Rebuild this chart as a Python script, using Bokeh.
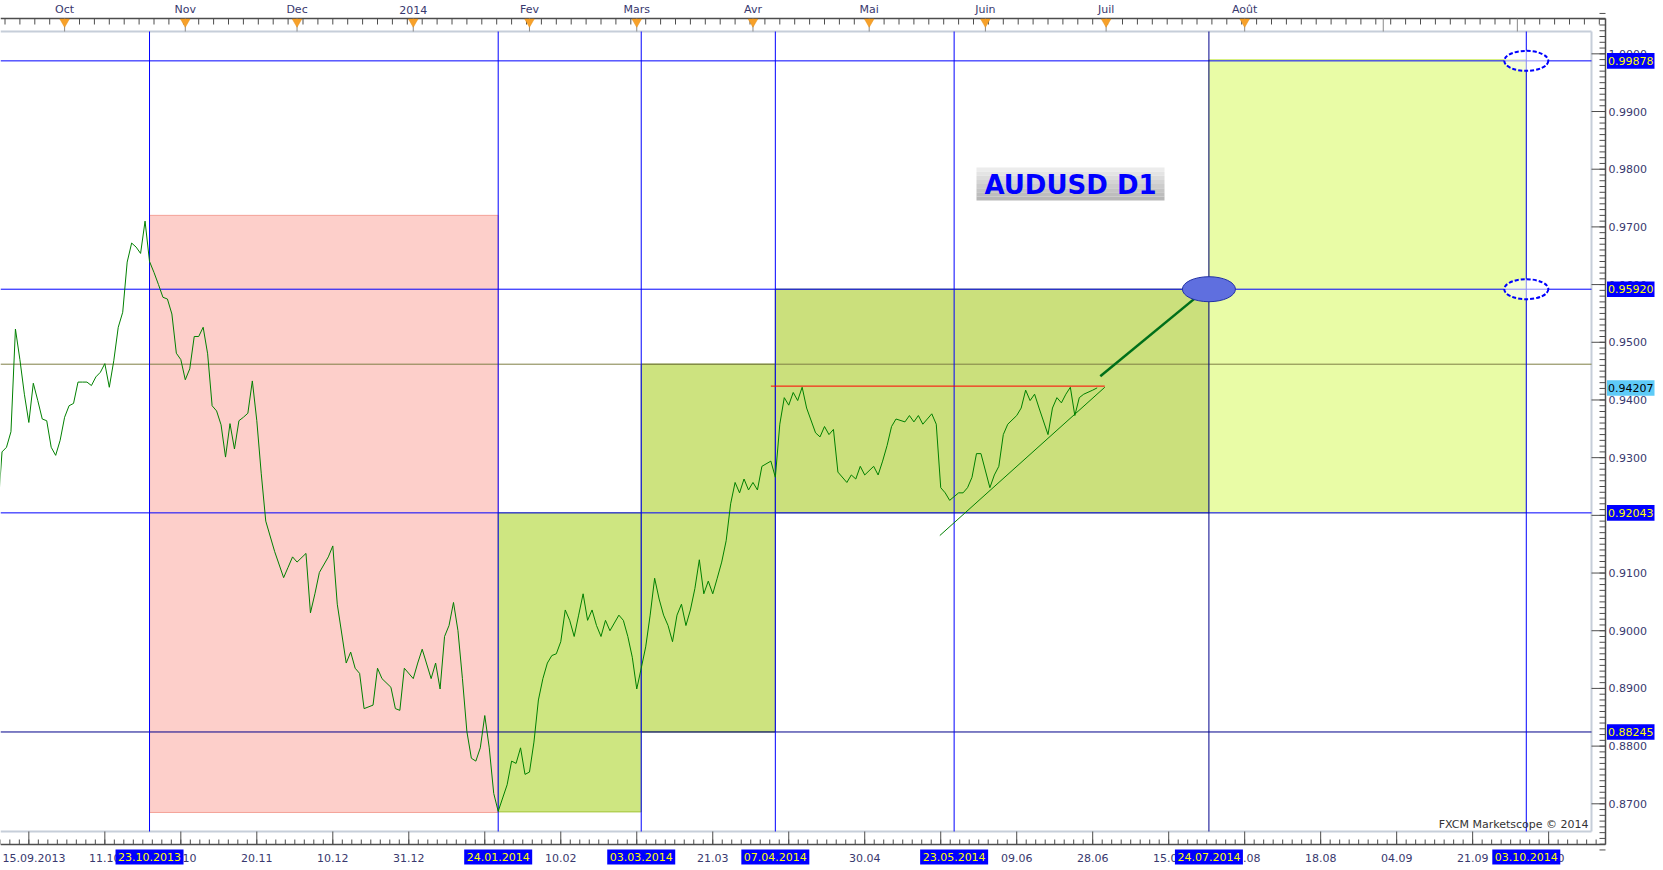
from bokeh.plotting import figure
from bokeh.models import Range1d
from bokeh.core.properties import value
from bokeh.embed import file_html
from bokeh.resources import INLINE

# ---------------- data (x = bar index, 0 = 01.10.2013) ----------------
price_bar = [-15, -14, -13, -12, -11, -10, -9, -8, -7, -6, -5, -4, -3, -2, -1,
             0, 1, 2, 3, 4, 5, 6, 7, 8, 9, 10, 11, 12, 13, 14, 15, 16, 17, 18, 19,
             20, 21, 22, 23, 24, 25, 26, 27, 28, 29, 30, 31, 32, 33, 34, 35, 36, 37,
             38, 39, 40, 41, 42, 43, 44, 45, 47, 49, 50, 51, 52, 54, 55, 56, 57, 59,
             60, 61, 63, 64, 65, 66, 67, 69, 70, 71, 73, 74, 75, 76, 78, 79, 80, 82,
             83, 84, 85, 86, 87, 88, 89, 90, 91, 92, 93, 94, 95, 96, 97, 99, 100, 101,
             102, 103, 104, 105, 106, 107, 108, 109, 110, 111, 112, 113, 114, 115,
             116, 117, 118, 119, 120, 121, 122, 124, 125, 126, 127, 128, 129, 130,
             131, 132, 133, 134, 135, 136, 137, 138, 139, 140, 141, 142, 143, 144,
             145, 146, 147, 148, 149, 150, 151, 152, 153, 154, 155, 156, 158, 159,
             160, 161, 162, 163, 164, 165, 166, 168, 169, 170, 171, 172, 173, 175,
             176, 177, 178, 179, 181, 182, 183, 184, 185, 186, 188, 189, 190, 191,
             192, 194, 195, 196, 197, 198, 200, 201, 202, 203, 204, 205, 207, 208,
             209, 210, 211, 213, 214, 215, 216, 217, 218, 220, 221, 222, 223, 224,
             225, 226, 227, 228, 230, 231]
price_val = [0.9200, 0.9310, 0.9318, 0.9345, 0.9523, 0.9470, 0.9410, 0.9361, 0.9429,
             0.9399, 0.9367, 0.9364, 0.9318, 0.9304, 0.9330,
             0.9370, 0.9390, 0.9394, 0.9431, 0.9431, 0.9431, 0.9425, 0.9440, 0.9448,
             0.9463, 0.9422, 0.9468, 0.9526, 0.9552, 0.9639, 0.9672, 0.9665, 0.9654,
             0.9710, 0.9640, 0.9621, 0.9600, 0.9578, 0.9575, 0.9549, 0.9481, 0.9470,
             0.9435, 0.9454, 0.9510, 0.9510, 0.9526, 0.9480, 0.9390, 0.9381, 0.9357,
             0.9301, 0.9359, 0.9315, 0.9364, 0.9370, 0.9377, 0.9433, 0.9364, 0.9272,
             0.9190, 0.9137, 0.9092, 0.9110, 0.9128, 0.9119, 0.9134, 0.9031, 0.9064,
             0.9101, 0.9128, 0.9147, 0.9046, 0.8944, 0.8963, 0.8935, 0.8926, 0.8865,
             0.8871, 0.8935, 0.8917, 0.8902, 0.8865, 0.8862, 0.8935, 0.8917, 0.8944,
             0.8968, 0.8917, 0.8944, 0.8899, 0.8990, 0.9009, 0.9049, 0.9000, 0.8917,
             0.8825, 0.8779, 0.8774, 0.8797, 0.8853, 0.8797, 0.8718, 0.8687, 0.8733,
             0.8774, 0.8770, 0.8797, 0.8751, 0.8755, 0.8807, 0.8880, 0.8917, 0.8944,
             0.8957, 0.8960, 0.8981, 0.9036, 0.9018, 0.8990, 0.9027, 0.9064, 0.9018,
             0.9036, 0.9009, 0.8990, 0.9018, 0.9000, 0.9027, 0.9018, 0.8990, 0.8954,
             0.8899, 0.8935, 0.8972, 0.9027, 0.9091, 0.9055, 0.9027, 0.9009, 0.8981,
             0.9027, 0.9046, 0.9009, 0.9036, 0.9073, 0.9123, 0.9064, 0.9086, 0.9064,
             0.9091, 0.9119, 0.9156, 0.9220, 0.9257, 0.9239, 0.9263, 0.9244, 0.9257,
             0.9244, 0.9285, 0.9294, 0.9266, 0.9358, 0.9404, 0.9391, 0.9413, 0.9399,
             0.9422, 0.9386, 0.9343, 0.9336, 0.9354, 0.9340, 0.9349, 0.9275, 0.9257,
             0.9270, 0.9263, 0.9285, 0.9270, 0.9285, 0.9270, 0.9294, 0.9321, 0.9354,
             0.9367, 0.9362, 0.9373, 0.9362, 0.9373, 0.9358, 0.9376, 0.9358, 0.9248,
             0.9239, 0.9226, 0.9239, 0.9239, 0.9248, 0.9266, 0.9307, 0.9307, 0.9248,
             0.9270, 0.9285, 0.9340, 0.9358, 0.9373, 0.9386, 0.9417, 0.9399, 0.9410,
             0.9386, 0.9340, 0.9386, 0.9404, 0.9395, 0.9410, 0.9422, 0.9373, 0.9404,
             0.9410, 0.9417, 0.9421]

month_bar = [0, 27, 52, 78, 104, 128, 154, 180, 206, 233, 264, 295, 325]
month_label = ["Oct", "Nov", "Dec", "2014", "Fev", "Mars", "Avr", "Mai", "Juin",
               "Juil", "Août", "", ""]

date_tick_bar = [-8, 9, 26, 43, 60, 77, 94, 111, 128, 145, 162, 179, 196, 213,
                 230, 247, 264, 281, 298, 315, 332]
date_tick_label = ["15.09.2013", "11.10", "31.10", "20.11", "10.12", "31.12", "21.01",
                   "10.02", "02.03", "21.03", "10.04", "30.04", "20.05", "09.06",
                   "28.06", "15.07", "01.08", "18.08", "04.09", "21.09", "08.10"]

event_bar = [19, 97, 129, 159, 199, 256, 327]
event_label = ["23.10.2013", "24.01.2014", "03.03.2014", "07.04.2014",
               "23.05.2014", "24.07.2014", "03.10.2014"]

level_val = [0.99878, 0.95920, 0.92043, 0.88245]
level_label = ["0.99878", "0.95920", "0.92043", "0.88245"]
mid_level = 0.9462
last_price = 0.94207
last_label = "0.94207"

price_ticks = [0.87, 0.88, 0.89, 0.90, 0.91, 0.92, 0.93, 0.94, 0.95, 0.96, 0.97,
               0.98, 0.99, 1.00]
price_tick_label = ["0.8700", "0.8800", "0.8900", "0.9000", "0.9100", "0.9200",
                    "0.9300", "0.9400", "0.9500", "0.9600", "0.9700", "0.9800",
                    "0.9900", "1.0000"]

zone_left = [19, 97, 129, 159, 256]
zone_right = [97, 129, 159, 256, 327]
zone_bottom = [0.8685, 0.8686, 0.88245, 0.92043, 0.92043]
zone_top = [0.9720, 0.92043, 0.9462, 0.95920, 0.99900]

resistance_bar = [158, 232.7]
resistance_val = [0.9424, 0.9424]
support_bar = [195.8, 232.7]
support_val = [0.9165, 0.9422]
arrow_bar = [231.7, 255.5]
arrow_val = [0.9441, 0.9593]
target_bar = [256]
target_val = [0.95920]
proj_bar = [327, 327]
proj_val = [0.99878, 0.95920]

title_text = "AUDUSD D1"
credit_text = "FXCM Marketscope © 2014"

# ---------------- canvas geometry (pixels -> data) ----------------
W, H = 1663, 870
BAR0_PX, PX_PER_BAR = 64.1, 4.47       # where bar 0 sits, bar spacing
V0, V0_PX, PX_PER_UNIT = 0.87, 803.3, 5769.0


def X(px):
    return (px - BAR0_PX) / PX_PER_BAR


def Y(py):
    return V0 + (V0_PX - py) / PX_PER_UNIT


def DX(px):
    return px / PX_PER_BAR


def DY(py):
    return py / PX_PER_UNIT


AX_R = 1605       # right price axis line
RULER_T = 18      # top time ruler
RULER_B = 844     # bottom time ruler
PANEL_R, PANEL_T, PANEL_B = X(1591), Y(31), Y(831)

FONT = "DejaVu Sans"
AXIS_TEXT = "#38386e"
RULER = "#4d4d4d"

p = figure(width=W, height=H, x_range=Range1d(X(0), X(W)), y_range=Range1d(Y(H), Y(0)),
           output_backend="svg", toolbar_location=None,
           x_axis_location=None, y_axis_location=None,
           min_border=0, background_fill_color="white", border_fill_color="white",
           outline_line_color=None)
p.grid.visible = False

# zones
zone_fill = ["#fdcfca", "#cee681", "#cde37f", "#cbe07c", "#e9fca6"]
zone_line = ["#f4a398", "#a3c43a", "#6f8f22", "#6f8f22", "#d4ef78"]
p.quad(left=zone_left, right=zone_right, bottom=zone_bottom, top=zone_top,
       fill_color=zone_fill, line_color=zone_line, line_width=1)

# panel border
p.segment(x0=[X(0), PANEL_R, X(0)], y0=[PANEL_T, PANEL_B, PANEL_B],
          x1=[PANEL_R, PANEL_R, PANEL_R], y1=[PANEL_T, PANEL_T, PANEL_B],
          line_color="#c6ced9", line_width=2)

# horizontal levels
lvl_color = ["#0000ff", "#0000ff", "#0000ff", "#00008b"]
p.segment(x0=[X(0)] * len(level_val), y0=level_val, x1=[PANEL_R] * len(level_val),
          y1=level_val, line_color=lvl_color, line_width=1)
p.segment(x0=[X(0)], y0=[mid_level], x1=[PANEL_R], y1=[mid_level],
          line_color="#7f7f45", line_width=1)

# vertical event lines
ev_color = ["#0000ff"] * 5 + ["#00008b", "#0000ff"]
p.segment(x0=event_bar, y0=[PANEL_B] * len(event_bar), x1=event_bar,
          y1=[PANEL_T] * len(event_bar), line_color=ev_color, line_width=1)

# price
p.line(price_bar, price_val, line_color="#008000", line_width=1)

# drawings
p.line(resistance_bar, resistance_val, line_color="#ff0000", line_width=1)
p.line(support_bar, support_val, line_color="#008000", line_width=1)
p.line(arrow_bar, arrow_val, line_color="#00701a", line_width=2.5)
p.ellipse(x=target_bar, y=target_val, width=53, height=25, width_units="screen",
          height_units="screen", fill_color="#5f6fdf", line_color="#2231a6",
          line_width=1)
p.ellipse(x=proj_bar, y=proj_val, width=44, height=20, width_units="screen",
          height_units="screen", fill_color="white", fill_alpha=0.55,
          line_color="#0000ff", line_width=2, line_dash="4 2")

# title box (gradient) and credit
shades = ["#ececec", "#e4e4e4", "#dcdcdc", "#d4d4d4", "#cccccc", "#c4c4c4",
          "#bdbdbd", "#b7b7b7"]
n = len(shades)
p.quad(left=[X(976)] * n, right=[X(1164)] * n,
       top=[Y(167 + 33 * i / n) for i in range(n)],
       bottom=[Y(167 + 33 * (i + 1) / n) for i in range(n)],
       fill_color=shades, line_color=None)
p.text(x=[X(1070)], y=[Y(184)], text=[title_text], text_align="center",
       text_baseline="middle", text_font=value(FONT), text_font_size=value("26px"),
       text_font_style="bold", text_color="#0000ff")
p.text(x=[X(1588)], y=[Y(824)], text=[credit_text], text_align="right",
       text_baseline="middle", text_font=value(FONT), text_font_size=value("11px"),
       text_color="#333333")

# ---------------- top time ruler ----------------
p.segment(x0=[X(0)], y0=[Y(RULER_T)], x1=[X(AX_R)], y1=[Y(RULER_T)],
          line_color=RULER, line_width=1.5)
top_minor = [i * 10 / 3 for i in range(-4, 104)]
p.segment(x0=top_minor, y0=[Y(RULER_T)] * len(top_minor), x1=top_minor,
          y1=[Y(RULER_T + 6)] * len(top_minor), line_color=RULER, line_width=1)
p.segment(x0=month_bar, y0=[Y(RULER_T)] * len(month_bar), x1=month_bar,
          y1=[Y(31)] * len(month_bar), line_color="#8a8a8a", line_width=1)
tri_bar = [b for b, l in zip(month_bar, month_label) if l]
p.scatter(x=tri_bar, y=[Y(21.3)] * len(tri_bar), marker="inverted_triangle",
          size=9.5, fill_color="#f7a12a", line_color="#e48d12", line_width=0.5)
p.text(x=tri_bar, y=[Y(9)] * len(tri_bar), text=[l for l in month_label if l],
       text_align="center", text_baseline="middle", text_font=value(FONT),
       text_font_size=value("11px"), text_color=AXIS_TEXT)

# ---------------- bottom time ruler ----------------
p.segment(x0=[X(0)], y0=[Y(RULER_B)], x1=[X(AX_R)], y1=[Y(RULER_B)],
          line_color=RULER, line_width=1.5)
bot_minor = [-8 + 2.125 * k for k in range(-3, 166)]
p.segment(x0=bot_minor, y0=[Y(RULER_B)] * len(bot_minor), x1=bot_minor,
          y1=[Y(RULER_B - 5)] * len(bot_minor), line_color=RULER, line_width=1)
p.segment(x0=date_tick_bar, y0=[Y(RULER_B)] * len(date_tick_bar), x1=date_tick_bar,
          y1=[Y(831)] * len(date_tick_bar), line_color=RULER, line_width=1)
p.text(x=[X(2)], y=[Y(857.5)], text=date_tick_label[:1], text_align="left",
       text_baseline="middle", text_font=value(FONT), text_font_size=value("11px"),
       text_color=AXIS_TEXT)
p.text(x=date_tick_bar[1:], y=[Y(857.5)] * (len(date_tick_bar) - 1),
       text=date_tick_label[1:], text_align="center", text_baseline="middle",
       text_font=value(FONT), text_font_size=value("11px"), text_color=AXIS_TEXT)

# event date boxes
p.quad(left=[b - DX(34) for b in event_bar], right=[b + DX(34) for b in event_bar],
       top=[Y(849)] * len(event_bar), bottom=[Y(864)] * len(event_bar),
       fill_color="#0000ff", line_color=None)
p.text(x=event_bar, y=[Y(856.5)] * len(event_bar), text=event_label,
       text_align="center", text_baseline="middle", text_font=value(FONT),
       text_font_size=value("11px"), text_color="#ffff00")

# ---------------- right price axis ----------------
p.segment(x0=[X(AX_R)], y0=[Y(RULER_T)], x1=[X(AX_R)], y1=[Y(RULER_B)],
          line_color=RULER, line_width=1.5)
right_minor = [round(0.862 + 0.001 * k, 3) for k in range(0, 146)]
p.segment(x0=[X(AX_R - 6)] * len(right_minor), y0=right_minor,
          x1=[X(AX_R)] * len(right_minor), y1=right_minor,
          line_color=RULER, line_width=1)
p.segment(x0=[X(1591)] * len(price_ticks), y0=price_ticks,
          x1=[X(AX_R)] * len(price_ticks), y1=price_ticks,
          line_color=RULER, line_width=1)
p.text(x=[X(1608)] * len(price_ticks), y=price_ticks, text=price_tick_label,
       text_align="left", text_baseline="middle", text_font=value(FONT),
       text_font_size=value("11px"), text_color=AXIS_TEXT)

# level boxes
all_lv = level_val + [last_price]
p.quad(left=[X(1606.5)] * len(all_lv), right=[X(1654)] * len(all_lv),
       top=[v + DY(7.8) for v in all_lv], bottom=[v - DY(7.8) for v in all_lv],
       fill_color=["#0000ff"] * len(level_val) + ["#5ecbf7"], line_color=None)
p.text(x=[X(1607.5)] * len(all_lv), y=all_lv, text=level_label + [last_label],
       text_align="left", text_baseline="middle", text_font=value(FONT),
       text_font_size=value("11px"),
       text_color=["#ffff00"] * len(level_val) + ["#000000"])

open("out.html", "w").write(file_html(p, INLINE))
